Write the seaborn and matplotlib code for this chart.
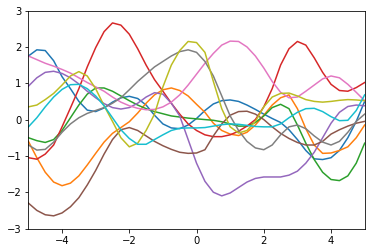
import numpy as np
import pandas as pd
import matplotlib
matplotlib.use("Agg")
import matplotlib.pyplot as plt
import seaborn as sns

x = [-5.0, -4.75, -4.5, -4.25, -4.0, -3.75, -3.5, -3.25, -3.0, -2.75, -2.5, -2.25, -2.0,
     -1.75, -1.5, -1.25, -1.0, -0.75, -0.5, -0.25, 0.0, 0.25, 0.5, 0.75, 1.0, 1.25, 1.5,
     1.75, 2.0, 2.25, 2.5, 2.75, 3.0, 3.25, 3.5, 3.75, 4.0, 4.25, 4.5, 4.75, 5.0]

blue = [1.75, 1.92, 1.90, 1.62, 1.18, 0.85, 0.50, 0.26, 0.22, 0.32, 0.48, 0.60, 0.64,
        0.58, 0.40, 0.12, -0.12, -0.23, -0.25, -0.15, 0.03, 0.25, 0.43, 0.52, 0.54, 0.50, 0.40,
        0.28, 0.15, 0.03, -0.08, -0.28, -0.55, -0.85, -1.08, -1.10, -1.05, -0.85, -0.50, -0.05, 0.50]
orange = [-0.60, -1.05, -1.45, -1.72, -1.82, -1.75, -1.55, -1.25, -0.93, -0.62, -0.38, -0.22, -0.06,
          0.18, 0.45, 0.68, 0.82, 0.87, 0.80, 0.65, 0.42, 0.20, -0.10, -0.30, -0.40, -0.44, -0.35,
          -0.15, 0.12, 0.40, 0.60, 0.68, 0.30, -0.25, -0.70, -0.93, -0.92, -0.85, -0.75, -0.50, -0.15]
green = [-0.50, -0.58, -0.63, -0.55, -0.30, 0.05, 0.40, 0.70, 0.87, 0.87, 0.78, 0.65, 0.52,
         0.40, 0.30, 0.22, 0.16, 0.10, 0.07, 0.04, 0.02, 0.00, -0.02, -0.06, -0.12, -0.18, -0.18,
         -0.08, 0.10, 0.33, 0.42, 0.30, -0.15, -0.65, -1.10, -1.45, -1.65, -1.68, -1.55, -1.20, -0.65]
red = [-1.05, -1.09, -0.95, -0.70, -0.20, 0.32, 0.85, 1.45, 1.98, 2.42, 2.66, 2.60, 2.35,
       1.95, 1.50, 1.10, 0.78, 0.45, 0.15, -0.12, -0.30, -0.42, -0.47, -0.47, -0.42, -0.32, -0.18,
       0.00, 0.35, 0.85, 1.50, 1.95, 2.15, 2.05, 1.70, 1.30, 0.97, 0.80, 0.78, 0.88, 1.02]
purple = [0.92, 1.15, 1.30, 1.33, 1.27, 1.15, 0.98, 0.78, 0.60, 0.44, 0.33, 0.29, 0.33,
          0.45, 0.62, 0.74, 0.70, 0.45, 0.10, -0.55, -1.20, -1.70, -2.00, -2.10, -2.02, -1.87, -1.72,
          -1.62, -1.58, -1.58, -1.58, -1.53, -1.42, -1.20, -0.90, -0.50, -0.10, 0.20, 0.36, 0.40, 0.38]
brown = [-2.30, -2.50, -2.62, -2.65, -2.57, -2.40, -2.15, -1.80, -1.40, -0.95, -0.55, -0.28, -0.22,
         -0.30, -0.45, -0.60, -0.72, -0.82, -0.90, -0.93, -0.92, -0.83, -0.45, -0.12, 0.12, 0.22, 0.23,
         0.15, 0.00, -0.20, -0.38, -0.52, -0.63, -0.70, -0.70, -0.60, -0.40, -0.28, -0.18, -0.10, -0.05]
pink = [1.75, 1.65, 1.55, 1.47, 1.38, 1.28, 1.15, 1.02, 0.90, 0.78, 0.62, 0.48, 0.38,
        0.31, 0.27, 0.28, 0.35, 0.48, 0.68, 0.95, 1.25, 1.55, 1.82, 2.05, 2.16, 2.15, 2.00,
        1.75, 1.42, 1.05, 0.75, 0.60, 0.62, 0.78, 0.95, 1.12, 1.20, 1.15, 0.97, 0.75, 0.52]
gray = [-0.70, -0.84, -0.82, -0.62, -0.35, -0.12, 0.05, 0.17, 0.25, 0.33, 0.45, 0.60, 0.82,
        1.05, 1.25, 1.45, 1.60, 1.75, 1.87, 1.92, 1.85, 1.60, 1.20, 0.65, 0.10, -0.30, -0.60,
        -0.78, -0.83, -0.70, -0.42, -0.20, -0.15, -0.25, -0.45, -0.62, -0.70, -0.60, -0.35, -0.05, 0.15]
olive = [0.35, 0.40, 0.55, 0.72, 0.95, 1.20, 1.32, 1.20, 0.85, 0.38, -0.05, -0.50, -0.75,
         -0.65, -0.30, 0.15, 0.90, 1.50, 1.90, 2.15, 2.12, 1.85, 1.05, 0.30, -0.20, -0.37, -0.30,
         -0.05, 0.35, 0.62, 0.72, 0.73, 0.65, 0.55, 0.50, 0.48, 0.50, 0.53, 0.55, 0.54, 0.52]
cyan = [-0.20, 0.05, 0.35, 0.62, 0.83, 0.96, 0.97, 0.85, 0.65, 0.38, 0.05, -0.28, -0.52,
        -0.68, -0.68, -0.55, -0.42, -0.30, -0.24, -0.23, -0.23, -0.22, -0.18, -0.14, -0.12, -0.13, -0.16,
        -0.19, -0.20, -0.20, -0.12, 0.05, 0.20, 0.30, 0.31, 0.22, 0.08, -0.03, -0.02, 0.25, 0.68]

series = {"s0": blue, "s1": orange, "s2": green, "s3": red, "s4": purple,
          "s5": brown, "s6": pink, "s7": gray, "s8": olive, "s9": cyan}

rows = []
for name, vals in series.items():
    for xi, yi in zip(x, vals):
        rows.append({"x": xi, "y": yi, "sample": name})
df = pd.DataFrame(rows)

fig = plt.figure(figsize=(374 / 72, 252 / 72), dpi=72)
ax = fig.add_axes([0.076, 0.093, 0.899, 0.865])
sns.lineplot(data=df, x="x", y="y", hue="sample", palette="tab10", legend=False,
             ax=ax, linewidth=1.5, sort=False, estimator=None)
ax.set_xlim(-5, 5)
ax.set_ylim(-3, 3)
ax.set_xticks([-4, -2, 0, 2, 4])
ax.set_yticks([-3, -2, -1, 0, 1, 2, 3])
ax.set_xlabel("")
ax.set_ylabel("")
fig.savefig("out.png", dpi=72)
